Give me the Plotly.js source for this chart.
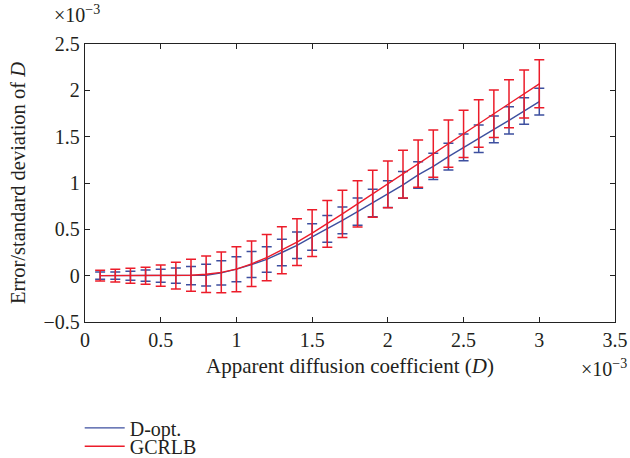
<!DOCTYPE html>
<html>
<head>
<meta charset="utf-8">
<script src="https://cdn.plot.ly/plotly-3.0.1.min.js"></script>
<style>html,body{margin:0;padding:0;background:#fff;}#chart{width:630px;height:458px;}</style>
</head>
<body>
<div id="chart"></div>
<script>
// Values in units of 10^-3
const D = [0.1,0.2,0.3,0.4,0.5,0.6,0.7,0.8,0.9,1.0,1.1,1.2,1.3,1.4,1.5,1.6,1.7,1.8,1.9,2.0,2.1,2.2,2.3,2.4,2.5,2.6,2.7,2.8,2.9,3.0];
const dOptMean = [0,0,0,0,0,0,0,0.005,0.03,0.07,0.12,0.175,0.25,0.328,0.418,0.504,0.597,0.69,0.785,0.88,0.98,1.087,1.18,1.284,1.385,1.478,1.579,1.676,1.777,1.878];
const dOptStd  = [0.04,0.04,0.049,0.061,0.07,0.083,0.099,0.117,0.13,0.135,0.14,0.138,0.144,0.144,0.143,0.144,0.144,0.147,0.148,0.145,0.144,0.143,0.142,0.144,0.144,0.148,0.144,0.148,0.144,0.144];
const gcrlbMean = [0,0,0,0,0,0,0.005,0.015,0.035,0.07,0.128,0.195,0.275,0.363,0.46,0.56,0.667,0.775,0.884,0.986,1.095,1.21,1.317,1.425,1.53,1.643,1.747,1.855,1.96,2.07];
const gcrlbStd  = [0.058,0.068,0.081,0.092,0.115,0.144,0.173,0.198,0.22,0.243,0.246,0.25,0.254,0.252,0.252,0.252,0.254,0.25,0.253,0.252,0.258,0.255,0.256,0.255,0.256,0.256,0.257,0.258,0.259,0.259];
const xTicks = [0,0.5,1,1.5,2,2.5,3,3.5];
const yTicks = [-0.5,0,0.5,1,1.5,2,2.5];

const font = 'Liberation Serif, Times New Roman, serif';
const ink = '#231f20';
const blue = '#3d4f9f';
const red = '#ec1c2a';

const traces = [
  {x: D, y: dOptMean, name: 'D-opt.', mode: 'lines', type: 'scatter', legend: 'legend',
   line: {color: blue, width: 1.4},
   error_y: {type: 'data', array: dOptStd, visible: true, color: blue, thickness: 1.5, width: 5}},
  {x: D, y: gcrlbMean, name: 'GCRLB', mode: 'lines', type: 'scatter', legend: 'legend2',
   line: {color: red, width: 1.4},
   error_y: {type: 'data', array: gcrlbStd, visible: true, color: red, thickness: 1.5, width: 5}}
];

const axisCommon = {
  showline: true, mirror: 'ticks', linecolor: '#222', linewidth: 1.2,
  ticks: 'inside', ticklen: 5, tickcolor: '#222', tickwidth: 1,
  showgrid: false, zeroline: false,
  tickfont: {family: font, size: 20, color: ink}
};

const legendCommon = {
  x: -0.01, xanchor: 'left', yanchor: 'middle',
  font: {family: font, size: 20, color: ink},
  bgcolor: 'rgba(0,0,0,0)', itemwidth: 40
};

const layout = {
  width: 630, height: 458,
  margin: {l: 85, r: 15, t: 44, b: 136, autoexpand: false},
  paper_bgcolor: '#fff', plot_bgcolor: '#fff',
  font: {family: font, color: ink, size: 20},
  showlegend: true,
  legend: Object.assign({}, legendCommon, {y: -0.381}),
  legend2: Object.assign({}, legendCommon, {y: -0.447}),
  xaxis: Object.assign({}, axisCommon, {
    range: [0, 3.5], tickvals: xTicks, ticktext: xTicks.map(String),
    title: {text: 'Apparent diffusion coefficient (<i>D</i>)', font: {family: font, size: 21, color: ink}, standoff: 8}
  }),
  yaxis: Object.assign({}, axisCommon, {
    range: [-0.5, 2.5], tickvals: yTicks, ticktext: yTicks.map(v => v < 0 ? '\u2212' + Math.abs(v) : String(v)),
    title: {text: 'Error/standard deviation of <i>D</i>', font: {family: font, size: 20.5, color: ink}, standoff: 12}
  }),
  annotations: [
    {xref: 'paper', yref: 'paper', x: 0, y: 1, xanchor: 'center', yanchor: 'bottom', yshift: 16, xshift: -8,
     text: '\u00d710<sup>\u22123</sup>', showarrow: false, font: {family: font, size: 20, color: ink}},
    {xref: 'paper', yref: 'paper', x: 1, y: 0, xanchor: 'right', yanchor: 'top', yshift: -32, xshift: 14,
     text: '\u00d710<sup>\u22123</sup>', showarrow: false, font: {family: font, size: 20, color: ink}}
  ]
};

Plotly.newPlot('chart', traces, layout, {displayModeBar: false, staticPlot: true});
</script>
</body>
</html>
